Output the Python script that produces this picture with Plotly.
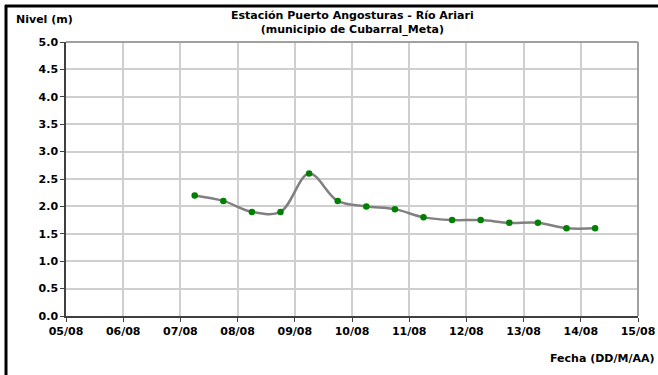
import plotly.graph_objects as go

fechas = ["2012-08-07 06:00", "2012-08-07 18:00", "2012-08-08 06:00", "2012-08-08 18:00",
          "2012-08-09 06:00", "2012-08-09 18:00", "2012-08-10 06:00", "2012-08-10 18:00",
          "2012-08-11 06:00", "2012-08-11 18:00", "2012-08-12 06:00", "2012-08-12 18:00",
          "2012-08-13 06:00", "2012-08-13 18:00", "2012-08-14 06:00"]
nivel = [2.2, 2.1, 1.9, 1.9, 2.6, 2.1, 2.0, 1.95, 1.8, 1.75, 1.75, 1.7, 1.7, 1.6, 1.6]

x_ticks = ["2012-08-05", "2012-08-06", "2012-08-07", "2012-08-08", "2012-08-09", "2012-08-10",
           "2012-08-11", "2012-08-12", "2012-08-13", "2012-08-14", "2012-08-15"]
x_tick_labels = ["05/08", "06/08", "07/08", "08/08", "09/08", "10/08",
                 "11/08", "12/08", "13/08", "14/08", "15/08"]
y_ticks = [0.0, 0.5, 1.0, 1.5, 2.0, 2.5, 3.0, 3.5, 4.0, 4.5, 5.0]

W, H = 658, 375
L, R, T, B = 66, 638, 42, 316

def px(x):
    return (x - L) / (R - L)

def py(y):
    return (B - y) / (B - T)

font = dict(family="DejaVu Sans, Arial, sans-serif", size=11, color="black")

fig = go.Figure()
fig.add_trace(go.Scatter(
    x=fechas, y=nivel, mode="lines+markers",
    line=dict(color="#808080", width=2.5, shape="spline", smoothing=1.0),
    marker=dict(color="#008000", size=6.5),
    showlegend=False, cliponaxis=False,
))

fig.update_layout(
    width=W, height=H,
    margin=dict(l=L, r=W - R, t=T, b=H - B, autoexpand=False),
    paper_bgcolor="white", plot_bgcolor="white",
    font=font,
    xaxis=dict(
        type="date", range=[x_ticks[0], x_ticks[-1]], automargin=False,
        tickmode="array", tickvals=x_ticks, ticktext=["<b>%s</b>" % t for t in x_tick_labels],
        showgrid=True, gridcolor="#cfcfcf", gridwidth=1.5,
        showline=True, linecolor="#404040", linewidth=1.5,
        ticks="outside", ticklen=4, tickcolor="#404040",
        zeroline=False, tickfont=font,
    ),
    yaxis=dict(
        range=[0, 5], tickmode="array", tickvals=y_ticks, automargin=False,
        ticktext=["<b>%.1f</b>" % v for v in y_ticks],
        showgrid=True, gridcolor="#cfcfcf", gridwidth=1.5,
        showline=True, linecolor="#404040", linewidth=1.5,
        ticks="outside", ticklen=4, tickcolor="#404040",
        zeroline=False, tickfont=font,
    ),
    shapes=[
        dict(type="line", xref="paper", yref="paper", x0=0, x1=1, y0=1, y1=1,
             line=dict(color="#a0a0a0", width=2)),
        dict(type="line", xref="paper", yref="paper", x0=1, x1=1, y0=0, y1=1,
             line=dict(color="#a0a0a0", width=2)),
        dict(type="line", xref="paper", yref="paper", x0=px(5), x1=px(W + 5), y0=py(6), y1=py(6),
             line=dict(color="black", width=3)),
        dict(type="line", xref="paper", yref="paper", x0=px(6), x1=px(6), y0=py(5), y1=py(H + 5),
             line=dict(color="black", width=3)),
    ],
    annotations=[
        dict(text="<b>Estación Puerto Angosturas - Río Ariari<br>(municipio de Cubarral_Meta)</b>",
             xref="paper", yref="paper", x=0.5, y=py(7), xanchor="center", yanchor="top",
             showarrow=False, font=font),
        dict(text="<b>Nivel (m)</b>", xref="paper", yref="paper", x=px(14), y=py(20),
             xanchor="left", yanchor="middle", showarrow=False, font=font),
        dict(text="<b>Fecha (DD/M/AA)</b>", xref="paper", yref="paper", x=px(656), y=py(358),
             xanchor="right", yanchor="middle", showarrow=False, font=font),
    ],
)

fig.write_html(
    "out.html", config={"displayModeBar": False},
    post_script=("document.documentElement.style.overflow='hidden';"
                 "document.body.style.overflow='hidden';"
                 "document.body.style.margin='0px';document.body.style.padding='0px';"),
)
